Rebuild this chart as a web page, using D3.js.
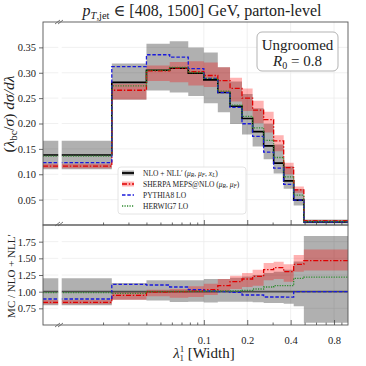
<!DOCTYPE html>
<html>
<head>
<meta charset="utf-8" />
<title>Width angularity, ungroomed</title>
<script src="https://d3js.org/d3.v7.min.js"></script>
<style>
  body { margin: 0; background: #fff; }
  text { font-family: "Liberation Serif", "DejaVu Serif", serif; fill: #222; }
</style>
</head>
<body>
<svg id="chart" width="366" height="366"></svg>
<script>
// bin edges in lambda; the first bin [0, 0.023] sits left of the axis break
const edges = [0, 0.023, 0.04, 0.058, 0.078, 0.1, 0.125, 0.152, 0.184, 0.218, 0.26, 0.305, 0.358, 0.42, 0.494, 1.0];

// NLO + NLL' and its scale band
const nll   = [0.138, 0.281, 0.305, 0.309, 0.299, 0.286, 0.261, 0.234, 0.210, 0.184, 0.156, 0.122, 0.087, 0.049, 0.006];
const nllLo = [0.110, 0.247, 0.265, 0.261, 0.254, 0.240, 0.222, 0.199, 0.1785, 0.1546, 0.1295, 0.1013, 0.0713, 0.0382, 0.0032];
const nllHi = [0.166, 0.318, 0.357, 0.362, 0.350, 0.340, 0.311, 0.283, 0.258, 0.230, 0.1997, 0.1586, 0.1157, 0.0711, 0.011];

// Sherpa MEPS@NLO and its band
const sherpa   = [0.1159, 0.2655, 0.3035, 0.309, 0.302, 0.2946, 0.2845, 0.2691, 0.2499, 0.2263, 0.2075, 0.1659, 0.1131, 0.0691, 0.0088];
const sherpaLo = [0.1118, 0.2473, 0.2837, 0.2812, 0.2751, 0.2717, 0.2610, 0.2434, 0.2247, 0.2006, 0.1825, 0.1452, 0.1001, 0.0637, 0.0079];
const sherpaHi = [0.1208, 0.2782, 0.3142, 0.3214, 0.3229, 0.3203, 0.3106, 0.2902, 0.2688, 0.2447, 0.2231, 0.1769, 0.1227, 0.0760, 0.0098];

const pythia = [0.1228, 0.3119, 0.3355, 0.3306, 0.308, 0.2889, 0.261, 0.2317, 0.1995, 0.1748, 0.1435, 0.1122, 0.080, 0.049, 0.006];
const herwig = [0.1359, 0.274, 0.305, 0.3105, 0.3005, 0.2889, 0.2636, 0.2363, 0.2142, 0.1914, 0.1669, 0.133, 0.0948, 0.0588, 0.0073];

const yTicksTop = [0.05, 0.10, 0.15, 0.20, 0.25, 0.30, 0.35];
const yTicksBot = [0.75, 1.00, 1.25, 1.50, 1.75];
const xTicks = [0.1, 0.2, 0.4, 0.8];
const xMinor = [0.02, 0.03, 0.04, 0.05, 0.06, 0.07, 0.08, 0.09, 0.3, 0.5, 0.6, 0.7, 0.9];

const svg = d3.select("#chart");
const L = 43, R = 348, T = 22, MID = 225, B = 325;
const cut = edges[1];

const xLog = d3.scaleLog().domain([cut, 1]).range([111.8, R]);
const xLow = d3.scaleLinear().domain([0, cut]).range([L, 111.8]);
const x = v => (v < cut ? xLow(v) : xLog(v));
const yTop = d3.scaleLinear().domain([0, 0.4]).range([MID, T]);
const yBot = d3.scaleLinear().domain([0.5, 2.0]).range([B, MID]);

const last = arr => arr[arr.length - 1];
const pts = vals => vals.map((v, i) => [edges[i], v]).concat([[last(edges), last(vals)]]);
const ratio = vals => vals.map((v, i) => v / nll[i]);

const defs = svg.append("defs");
defs.append("clipPath").attr("id", "clipTop")
  .append("rect").attr("x", L).attr("y", T).attr("width", R - L).attr("height", MID - T);
defs.append("clipPath").attr("id", "clipBot")
  .append("rect").attr("x", L).attr("y", MID).attr("width", R - L).attr("height", B - MID);

// grid
const grid = svg.append("g").attr("stroke", "#ececec").attr("stroke-width", 0.8);
yTicksTop.forEach(t => grid.append("line").attr("x1", L).attr("x2", R).attr("y1", yTop(t)).attr("y2", yTop(t)));
yTicksBot.forEach(t => grid.append("line").attr("x1", L).attr("x2", R).attr("y1", yBot(t)).attr("y2", yBot(t)));
xTicks.forEach(t => grid.append("line").attr("x1", x(t)).attr("x2", x(t)).attr("y1", T).attr("y2", B));

function panel(y, clip, f) {
  const g = svg.append("g").attr("clip-path", "url(#" + clip + ")");
  const area = d3.area().curve(d3.curveStepAfter)
    .x(d => x(d[0])).y0(d => y(d[1])).y1(d => y(d[2]));
  const band = (lo, hi) => lo.map((v, i) => [edges[i], v, hi[i]])
    .concat([[last(edges), last(lo), last(hi)]]);
  const line = d3.line().curve(d3.curveStepAfter).x(d => x(d[0])).y(d => y(d[1]));

  g.append("path").attr("d", area(band(f(nllLo), f(nllHi)))).attr("fill", "#000").attr("fill-opacity", 0.31);
  g.append("path").attr("d", area(band(f(sherpaLo), f(sherpaHi)))).attr("fill", "#ff0000").attr("fill-opacity", 0.3);

  g.append("path").attr("d", line(pts(f(nll)))).attr("fill", "none")
    .attr("stroke", "#000").attr("stroke-width", 1.6).attr("stroke-opacity", clip === "clipBot" ? 0.55 : 1);
  g.append("path").attr("d", line(pts(f(sherpa)))).attr("fill", "none")
    .attr("stroke", "#e00000").attr("stroke-width", 1.3).attr("stroke-dasharray", "5,1.8,1.4,1.8");
  g.append("path").attr("d", line(pts(f(pythia)))).attr("fill", "none")
    .attr("stroke", "#1a1adb").attr("stroke-width", 1.3).attr("stroke-dasharray", "3.5,1.8");
  g.append("path").attr("d", line(pts(f(herwig)))).attr("fill", "none")
    .attr("stroke", "#2e8b2e").attr("stroke-width", 1.3).attr("stroke-dasharray", "1.2,1.3");
}
panel(yTop, "clipTop", v => v);
panel(yBot, "clipBot", ratio);

// axis break gap
svg.append("rect").attr("x", 58.3).attr("y", T + 1).attr("width", 3.4).attr("height", B - T - 2).attr("fill", "#fff");

// frames
const frame = svg.append("g").attr("fill", "none").attr("stroke", "#555").attr("stroke-width", 0.9);
frame.append("rect").attr("x", L).attr("y", T).attr("width", R - L).attr("height", MID - T);
frame.append("rect").attr("x", L).attr("y", MID).attr("width", R - L).attr("height", B - MID);

// break marks
[T, MID - 1, B].forEach(yy => {
  [0, 3].forEach(o => svg.append("line")
    .attr("x1", 55 + o).attr("y1", yy + 2).attr("x2", 60 + o).attr("y2", yy - 2)
    .attr("stroke", "#555").attr("stroke-width", 0.8));
});

function styleAxis(g) {
  g.select(".domain").remove();
  g.selectAll(".tick line").attr("stroke", "#444").attr("stroke-width", 0.8);
  g.selectAll("text").attr("font-family", "'Liberation Serif', serif").attr("font-size", 10.5).attr("fill", "#333");
}

svg.append("g").attr("transform", "translate(" + L + ",0)")
  .call(d3.axisLeft(yTop).tickValues(yTicksTop).tickFormat(d3.format(".2f")).tickSize(4).tickPadding(3))
  .call(styleAxis);
svg.append("g").attr("transform", "translate(" + L + ",0)")
  .call(d3.axisLeft(yBot).tickValues(yTicksBot).tickFormat(d3.format(".2f")).tickSize(4).tickPadding(3))
  .call(styleAxis);

// x ticks (inward) on both panels
[MID, B].forEach(yy => {
  svg.append("g").attr("transform", "translate(0," + yy + ")")
    .call(d3.axisBottom(xLog).tickValues(xMinor).tickFormat("").tickSizeInner(-2.5).tickSizeOuter(0))
    .call(styleAxis);
  svg.append("g").attr("transform", "translate(0," + yy + ")")
    .call(d3.axisBottom(xLog).tickValues(xTicks).tickFormat(yy === B ? d3.format(".1f") : "").tickSizeInner(-5).tickSizeOuter(0).tickPadding(12))
    .call(styleAxis);
});

// title
const title = svg.append("text").attr("x", 202).attr("y", 16).attr("text-anchor", "middle").attr("font-size", 16);
title.append("tspan").attr("font-style", "italic").text("p");
title.append("tspan").attr("font-size", 10.5).attr("dy", 3).attr("font-style", "italic").text("T");
title.append("tspan").attr("font-size", 10.5).text(",jet");
title.append("tspan").attr("dy", -3).text(" \u2208 [408, 1500] GeV, parton-level");

// y labels
const yl = svg.append("text").attr("transform", "translate(14,114) rotate(-90)").attr("text-anchor", "middle").attr("font-size", 15.5);
yl.append("tspan").text("(");
yl.append("tspan").attr("font-style", "italic").text("\u03bb");
yl.append("tspan").attr("font-size", 10.5).attr("dy", 3).text("bc");
yl.append("tspan").attr("dy", -3).text("/");
yl.append("tspan").attr("font-style", "italic").text("\u03c3");
yl.append("tspan").text(") ");
yl.append("tspan").attr("font-style", "italic").text("d\u03c3/d\u03bb");

svg.append("text").attr("transform", "translate(15,276) rotate(-90)").attr("text-anchor", "middle")
  .attr("font-size", 11).text("MC / NLO + NLL\u2032");

// x label
const xl = svg.append("text").attr("x", 204).attr("y", 358).attr("text-anchor", "middle").attr("font-size", 15);
xl.append("tspan").attr("font-style", "italic").text("\u03bb");
xl.append("tspan").attr("font-size", 9).attr("dy", -6).text("1");
xl.append("tspan").attr("font-size", 9).attr("dx", -4.5).attr("dy", 9).text("1");
xl.append("tspan").attr("dy", -3).text(" [Width]");

// info box
svg.append("rect").attr("x", 257).attr("y", 32).attr("width", 81).attr("height", 39).attr("rx", 5)
  .attr("fill", "#fff").attr("stroke", "#aaa").attr("stroke-width", 0.9);
svg.append("text").attr("x", 297.5).attr("y", 50).attr("text-anchor", "middle").attr("font-size", 15).text("Ungroomed");
const rl = svg.append("text").attr("x", 297.5).attr("y", 66).attr("text-anchor", "middle").attr("font-size", 15);
rl.append("tspan").attr("font-style", "italic").text("R");
rl.append("tspan").attr("font-size", 10).attr("dy", 3).text("0");
rl.append("tspan").attr("dy", -3).text(" = 0.8");

// legend
const lg = svg.append("g").attr("transform", "translate(118,167)");
lg.append("rect").attr("width", 128).attr("height", 47).attr("rx", 3)
  .attr("fill", "#fff").attr("fill-opacity", 0.9).attr("stroke", "#ddd").attr("stroke-width", 0.8);
// each label: plain text pieces and [symbol, subscript] pairs
const entries = [
  { label: ["NLO + NLL\u2032 (", ["\u03bc", "R"], ", ", ["\u03bc", "F"], ", ", ["x", "L"], ")"], color: "#000", dash: null, w: 1.8, band: "rgba(0,0,0,0.31)" },
  { label: ["SHERPA MEPS@NLO (", ["\u03bc", "R"], ", ", ["\u03bc", "F"], ")"], color: "#e00000", dash: "5,1.8,1.4,1.8", w: 1.3, band: "rgba(255,0,0,0.3)" },
  { label: ["PYTHIA8 LO"], color: "#1a1adb", dash: "3.5,1.8", w: 1.3, band: null },
  { label: ["HERWIG7 LO"], color: "#2e8b2e", dash: "1.2,1.3", w: 1.3, band: null }
];
entries.forEach((e, i) => {
  const yy = 6 + i * 11;
  if (e.band) lg.append("rect").attr("x", 4).attr("y", yy - 2.5).attr("width", 12).attr("height", 5).attr("fill", e.band);
  lg.append("line").attr("x1", 4).attr("x2", 16).attr("y1", yy).attr("y2", yy)
    .attr("stroke", e.color).attr("stroke-width", e.w).attr("stroke-dasharray", e.dash);
  const t = lg.append("text").attr("x", 25).attr("y", yy + 2.5).attr("font-size", 7.5);
  let shift = 0;
  e.label.forEach(p => {
    if (Array.isArray(p)) {
      t.append("tspan").attr("font-style", "italic").attr("dy", -shift).text(p[0]);
      t.append("tspan").attr("font-style", "italic").attr("font-size", 5.5).attr("dy", 1.5).text(p[1]);
      shift = 1.5;
    } else {
      t.append("tspan").attr("dy", -shift).text(p);
      shift = 0;
    }
  });
});
</script>
</body>
</html>
